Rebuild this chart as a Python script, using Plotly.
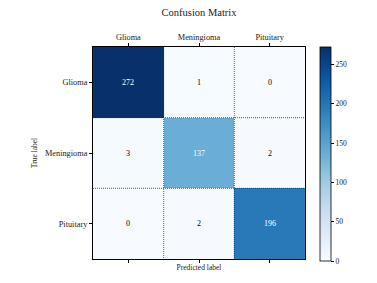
import plotly.graph_objects as go

classes = ["Glioma", "Meningioma", "Pituitary"]
matrix = [
    [272, 1, 0],
    [3, 137, 2],
    [0, 2, 196],
]
cbar_ticks = [0, 50, 100, 150, 200, 250]

FONT = "Liberation Serif, DejaVu Serif, serif"
TXT = "#1a1a1a"
n = len(classes)
idx = list(range(n))
zmax = max(max(r) for r in matrix)
thresh = zmax / 2.0

fig = go.Figure()
fig.add_trace(go.Heatmap(
    z=matrix, x=idx, y=idx,
    colorscale="Blues", zmin=0, zmax=zmax,
    xgap=0, ygap=0,
    hoverinfo="skip",
    colorbar=dict(
        x=1.071, xanchor="left", y=0.495, yanchor="middle", xpad=0, ypad=0,
        len=1.01, lenmode="fraction", thickness=11,
        outlinecolor="black", outlinewidth=0.8,
        tickvals=cbar_ticks, ticks="outside", ticklen=3,
        tickcolor="black", tickfont=dict(family=FONT, size=7.5, color=TXT),
    ),
))

annots = []
for i in range(n):
    for j in range(n):
        v = matrix[i][j]
        annots.append(dict(
            x=j, y=i, xref="x", yref="y", text=str(v), showarrow=False,
            font=dict(family=FONT, size=8, color="white" if v > thresh else "black"),
        ))

shapes = []
for k in range(1, n):
    shapes.append(dict(type="line", xref="x", yref="y", x0=k - 0.5, x1=k - 0.5, y0=-0.5, y1=n - 0.5,
                       line=dict(color="#333", width=0.8, dash="1px,1px")))
    shapes.append(dict(type="line", xref="x", yref="y", y0=k - 0.5, y1=k - 0.5, x0=-0.5, x1=n - 0.5,
                       line=dict(color="#333", width=0.8, dash="1px,1px")))

# invisible trace to anchor the bottom axis
fig.add_trace(go.Scatter(x=[0], y=[0], xaxis="x2", mode="markers",
                         marker=dict(opacity=0), showlegend=False, hoverinfo="skip"))

fig.update_layout(
    width=377, height=283,
    margin=dict(l=93, r=72, t=47, b=24, autoexpand=False),
    paper_bgcolor="white", plot_bgcolor="white",
    title=dict(text="Confusion Matrix", x=0.528, xanchor="center", y=0.955, yanchor="middle",
               font=dict(family=FONT, size=10.5, color=TXT)),
    annotations=annots, shapes=shapes,
    xaxis=dict(
        range=[-0.5, n - 0.5], side="top", tickvals=idx, ticktext=classes,
        ticks="outside", ticklen=3, tickcolor="black",
        tickfont=dict(family=FONT, size=8.3, color=TXT),
        showgrid=False, zeroline=False, showline=True, linecolor="black", linewidth=1, mirror=True,
    ),
    xaxis2=dict(
        range=[-0.5, n - 0.5], overlaying="x", side="bottom", tickvals=idx,
        showticklabels=False, ticks="outside", ticklen=3, tickcolor="black",
        showgrid=False, zeroline=False,
        title=dict(text="Predicted label", standoff=2, font=dict(family=FONT, size=7.5, color=TXT)),
    ),
    yaxis=dict(
        range=[n - 0.5, -0.5], tickvals=idx, ticktext=classes,
        ticks="outside", ticklen=3, tickcolor="black",
        tickfont=dict(family=FONT, size=8.3, color=TXT),
        showgrid=False, zeroline=False, showline=True, linecolor="black", linewidth=1, mirror=True,
        title=dict(text="True label", standoff=6, font=dict(family=FONT, size=7.5, color=TXT)),
    ),
)

fig.write_html("out.html", config={"displayModeBar": False},
               post_script="document.body.style.margin='0';document.body.style.padding='0';")
